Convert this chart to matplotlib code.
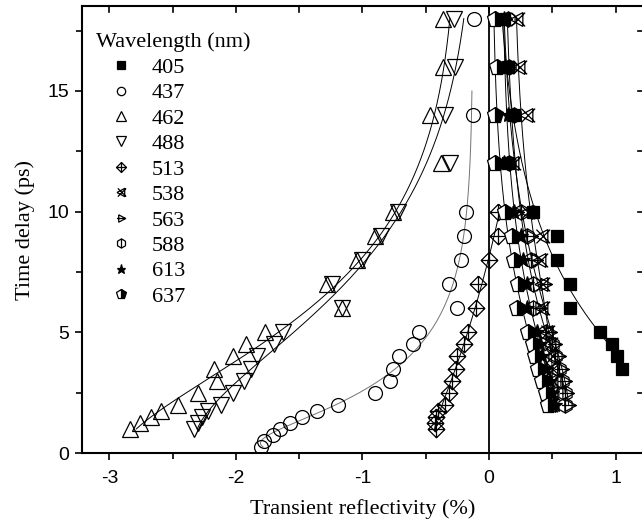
import numpy as np
import matplotlib
matplotlib.use('Agg')
import matplotlib.pyplot as plt
from matplotlib.path import Path
from matplotlib.lines import Line2D

# ---------------- data ----------------
wavelengths = ['405', '437', '462', '488', '513', '538', '563', '588', '613', '637']

y_405 = [18, 16, 14, 12, 10, 9, 8, 7, 6, 5, 4.5, 4, 3.5]
x_405 = [0.12, 0.15, 0.20, 0.15, 0.35, 0.54, 0.54, 0.64, 0.64, 0.88, 0.97, 1.01, 1.05]

y_437 = [18, 14, 10, 9, 8, 7, 6, 5, 4.5, 4, 3.5, 3, 2.5, 2, 1.75, 1.5, 1.25, 1.0, 0.75, 0.5, 0.25]
x_437 = [-0.12, -0.13, -0.18, -0.20, -0.22, -0.32, -0.25, -0.55, -0.60, -0.71, -0.76, -0.78,
         -0.90, -1.19, -1.36, -1.48, -1.57, -1.65, -1.71, -1.78, -1.80]

y_tri = [18, 16, 14, 12, 10, 9, 8, 7, 6, 5, 4.5, 4, 3.5, 3, 2.5, 2, 1.75, 1.5, 1.25, 1.0]
x_462 = [-0.36, -0.36, -0.47, -0.38, -0.76, -0.90, -1.04, -1.28, -1.16, -1.77, -1.92, -2.02,
         -2.17, -2.15, -2.30, -2.46, -2.59, -2.67, -2.76, -2.84]
x_488 = [-0.28, -0.27, -0.35, -0.31, -0.72, -0.85, -1.00, -1.24, -1.16, -1.63, -1.70, -1.83,
         -1.88, -1.94, -2.02, -2.12, -2.22, -2.27, -2.30, -2.33]

y_513 = [10, 9, 8, 7, 6, 5, 4.5, 4, 3.5, 3, 2.5, 2, 1.75, 1.5, 1.25, 1.0]
x_513 = [0.07, 0.07, 0.0, -0.09, -0.10, -0.17, -0.20, -0.25, -0.26, -0.29, -0.32, -0.35,
         -0.40, -0.42, -0.43, -0.42]

y_r = [18, 16, 14, 12, 10, 9, 8, 7, 6, 5, 4.5, 4, 3.5, 3, 2.5, 2]
x_538 = [0.22, 0.24, 0.30, 0.19, 0.30, 0.42, 0.40, 0.42, 0.42, 0.46, 0.48, 0.50, 0.50, 0.50, 0.50, 0.48]
x_563 = [0.13, 0.15, 0.18, 0.14, 0.22, 0.33, 0.37, 0.44, 0.40, 0.48, 0.52, 0.55, 0.58, 0.60, 0.62, 0.63]
x_588 = [0.15, 0.16, 0.20, 0.16, 0.25, 0.30, 0.33, 0.35, 0.35, 0.45, 0.50, 0.52, 0.55, 0.58, 0.60, 0.60]
x_613 = [0.12, 0.13, 0.15, 0.12, 0.20, 0.25, 0.27, 0.30, 0.30, 0.38, 0.40, 0.42, 0.45, 0.48, 0.50, 0.52]
x_637 = [0.05, 0.06, 0.05, 0.05, 0.13, 0.18, 0.20, 0.23, 0.22, 0.31, 0.35, 0.36, 0.39, 0.42, 0.45, 0.47]

# ---------------- custom markers ----------------
M, L = Path.MOVETO, Path.LINETO

def mk(segs):
    verts, codes = [], []
    for seg in segs:
        for i, p in enumerate(seg):
            verts.append(p)
            codes.append(M if i == 0 else L)
    return Path(verts, codes)

diamond_plus = mk([[(0, 1), (1, 0), (0, -1), (-1, 0), (0, 1)], [(-1, 0), (1, 0)], [(0, -1), (0, 1)]])
tri_right_line = mk([[(-0.6, 0.8), (0.9, 0), (-0.6, -0.8), (-0.6, 0.8)], [(-1, 0), (0.9, 0)]])
ang = np.deg2rad(np.arange(0, 361, 60) + 30)
hex_bar = mk([list(zip(np.cos(ang), np.sin(ang))), [(0, -1), (0, 1)]])
tri_left_x = mk([[(-1, 0), (0.7, 0.9), (0.7, -0.9), (-1, 0)], [(-0.8, -0.9), (1, 0.9)], [(-0.8, 0.9), (1, -0.9)]])

# ---------------- fit helper (derived from the data) ----------------
def dexp_fit(x, y, y0, y1):
    x = np.asarray(x, float); y = np.asarray(y, float)
    best = None
    for t1 in np.geomspace(0.4, 8, 30):
        for t2 in np.geomspace(2, 80, 30):
            if t2 <= t1 * 1.3:
                continue
            A = np.column_stack([np.ones_like(y), np.exp(-y / t1), np.exp(-y / t2)])
            c, *_ = np.linalg.lstsq(A, x, rcond=None)
            r = np.sum((A @ c - x) ** 2)
            if best is None or r < best[0]:
                best = (r, t1, t2, c)
    _, t1, t2, c = best
    yy = np.linspace(y0, y1, 300)
    xx = c[0] + c[1] * np.exp(-yy / t1) + c[2] * np.exp(-yy / t2)
    return xx, yy

# ---------------- figure ----------------
X0, X1, Y0, Y1 = -3.217, 1.225, 0, 18.52
fig = plt.figure(figsize=(6.42, 5.22), dpi=100)
ax = fig.add_axes([82 / 642, 69 / 522, 562 / 642, 447 / 522])

serif = ['Liberation Serif', 'DejaVu Serif']
sans = ['Liberation Sans', 'DejaVu Sans']

ax.axvline(0, color='black', lw=1.3, zorder=1)

series = [
    (x_405, y_405, dict(marker='s', mfc='black', mec='black', ms=9)),
    (x_437, y_437, dict(marker='o', mfc='none', mec='black', ms=10)),
    (x_462, y_tri, dict(marker='^', mfc='none', mec='black', ms=11)),
    (x_488, y_tri, dict(marker='v', mfc='none', mec='black', ms=11)),
    (x_513, y_513, dict(marker=diamond_plus, mfc='none', mec='black', ms=12)),
    (x_538, y_r, dict(marker=tri_left_x, mfc='none', mec='black', ms=11)),
    (x_563, y_r, dict(marker=tri_right_line, mfc='none', mec='black', ms=11)),
    (x_588, y_r, dict(marker=hex_bar, mfc='none', mec='black', ms=11)),
    (x_613, y_r, dict(marker='*', mfc='black', mec='black', ms=11)),
    (x_637, y_r, dict(marker='p', fillstyle='right', mfc='black', mfcalt='white', mec='black', ms=12)),
]

for i, (xs, ys, st) in enumerate(series):
    if i == 1:
        top = 15
    elif i == 4:
        top = max(ys)
    else:
        top = 18
    fx, fy = dexp_fit(xs, ys, min(ys), top)
    ax.plot(fx, fy, color='0.45' if i == 1 else 'black', lw=0.7, zorder=2)
    ax.plot(xs, ys, ls='none', mew=0.9, zorder=3, **st)

ax.set_xlim(X0, X1)
ax.set_ylim(Y0, Y1)
ax.set_xticks([-3, -2, -1, 0, 1])
ax.set_xticks(np.arange(-3, 1.01, 0.5), minor=True)
ax.set_yticks([0, 5, 10, 15])
ax.set_yticks(np.arange(0, 18.1, 2.5), minor=True)
ax.set_xticklabels(['-3', '-2', '-1', '0', '1'], fontfamily=sans, fontsize=14)
ax.set_yticklabels(['0', '5', '10', '15'], fontfamily=sans, fontsize=14)
ax.tick_params(which='both', direction='out', width=1.2, top=False, right=False)
ax.tick_params(axis='x', which='major', length=5, pad=7)
ax.tick_params(axis='y', which='major', length=5, pad=4)
ax.tick_params(which='minor', length=4)
for s in ax.spines.values():
    s.set_linewidth(1.5)
ax.spines['right'].set_visible(False)

# mirrored inward ticks on top and right
for xt in np.arange(-3, 1.01, 0.5):
    ax.plot([xt, xt], [Y1, Y1 - 0.25], color='black', lw=1.2, clip_on=False, zorder=5)
for yt in np.arange(0, 18.1, 2.5):
    ax.plot([X1, X1 - 0.05], [yt, yt], color='black', lw=1.2, clip_on=False, zorder=5)

ax.set_xlabel('Transient reflectivity (%)', fontfamily=serif, fontsize=16, labelpad=9)
ax.set_ylabel('Time delay (ps)', fontfamily=serif, fontsize=16, labelpad=9)

handles = [Line2D([], [], ls='none', mew=0.9, **st) for _, _, st in series]
leg = ax.legend(handles, wavelengths, title='Wavelength (nm)', frameon=False,
                loc='upper left', bbox_to_anchor=(0.006, 0.965), borderpad=0,
                markerscale=0.6, handlelength=2.25, handletextpad=0.25,
                labelspacing=0.22, prop={'family': serif, 'size': 16},
                title_fontproperties={'family': serif, 'size': 16}, alignment='left')

fig.savefig('out.png', dpi=100)
